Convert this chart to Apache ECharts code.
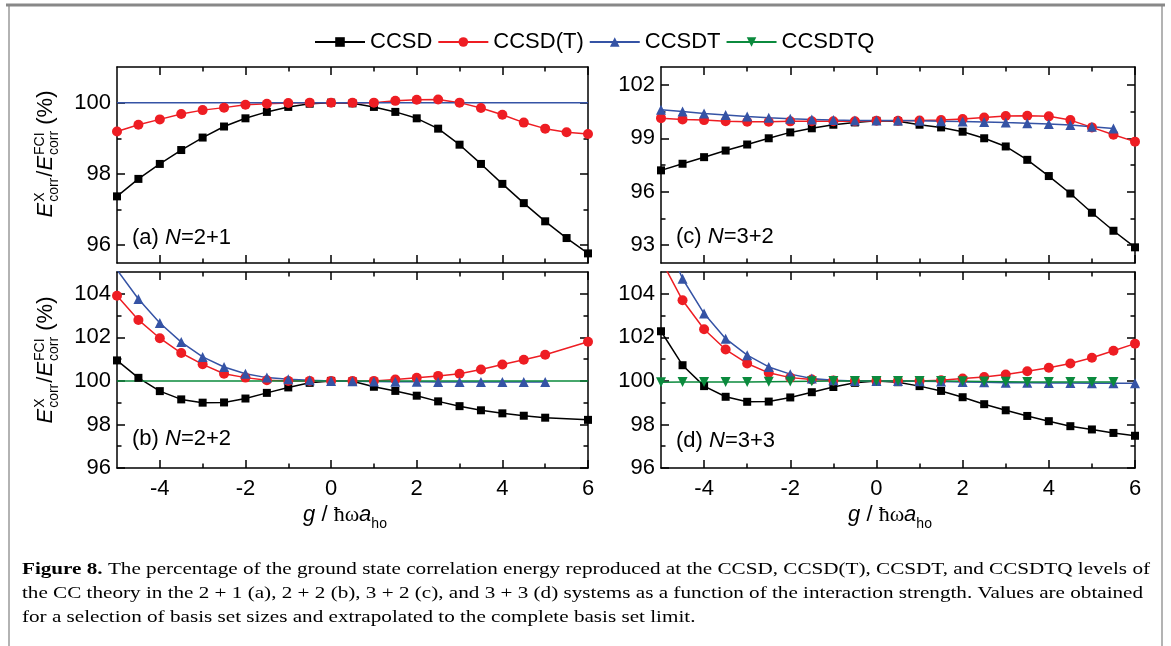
<!DOCTYPE html>
<html><head><meta charset="utf-8">
<script src="https://cdn.jsdelivr.net/npm/echarts@6/dist/echarts.min.js"></script>
<style>html,body{margin:0;padding:0;background:#fff;}#c{width:1171px;height:646px;}</style>
</head><body><div id="c"></div>
<script>
// ---------------- data ----------------
const G = [-5,-4.5,-4,-3.5,-3,-2.5,-2,-1.5,-1,-0.5,0,0.5,1,1.5,2,2.5,3,3.5,4,4.5,5,5.5,6];
const NAMES = ['CCSD','CCSD(T)','CCSDT','CCSDTQ'];
// (a) N=2+1
const A_CCSD   = [97.37,97.86,98.28,98.67,99.02,99.33,99.56,99.74,99.88,99.97,100,99.98,99.88,99.74,99.56,99.27,98.82,98.28,97.72,97.18,96.67,96.2,95.77];
const A_CCSD_T = [99.19,99.38,99.53,99.68,99.79,99.86,99.94,99.97,99.99,100,100,100,100,100.05,100.08,100.09,100.0,99.85,99.66,99.44,99.27,99.17,99.12];
const A_CCSDT  = [100,100,100,100,100,100,100,100,100,100,100,100,100,100,100,100,100,100,100,100,100,100,100];
// (b) N=2+2
const B_CCSD   = [100.94,100.14,99.53,99.15,99.0,99.01,99.19,99.45,99.7,99.91,100,99.98,99.73,99.54,99.32,99.06,98.84,98.65,98.51,98.4,98.31,null,98.21];
const B_CCSD_T = [103.91,102.8,101.96,101.28,100.76,100.33,100.15,100.03,100,100,100,100,100,100.06,100.14,100.23,100.33,100.52,100.75,100.97,101.2,null,101.8];
const B_CCSDT  = [105.1,103.76,102.66,101.78,101.1,100.64,100.33,100.15,100.08,100.03,100,99.98,99.97,99.96,99.96,99.95,99.95,99.95,99.95,99.95,99.95,null,null];
const B_CCSDTQ = [100,100,100,100,100,100,100,100,100,100,100,100,100,100,100,100,100,100,100,100,100,100,100];
// (c) N=3+2
const C_CCSD   = [97.2,97.57,97.94,98.31,98.65,99.0,99.33,99.56,99.76,99.89,99.98,99.95,99.76,99.61,99.37,99.0,98.54,97.79,96.88,95.9,94.82,93.81,92.88];
const C_CCSD_T = [100.13,100.06,100.02,99.96,99.93,99.93,99.95,99.96,99.96,99.96,99.98,99.98,100,100.02,100.08,100.17,100.25,100.26,100.23,100.02,99.61,99.2,98.81];
const C_CCSDT  = [100.6,100.5,100.39,100.3,100.22,100.15,100.1,100.06,100.02,100,100,100,99.98,99.96,99.94,99.92,99.88,99.85,99.8,99.74,99.65,99.55,null];
// (d) N=3+3
const D_CCSD   = [102.28,100.72,99.76,99.27,99.04,99.05,99.24,99.48,99.72,99.91,100,99.94,99.76,99.54,99.25,98.93,98.65,98.39,98.15,97.92,97.77,97.61,97.48];
const D_CCSD_T = [105.56,103.7,102.37,101.44,100.8,100.37,100.15,100.06,100.02,100,100,100,100,100.03,100.11,100.18,100.29,100.44,100.6,100.8,101.06,101.38,101.71];
const D_CCSDT  = [107,104.69,103.09,101.94,101.18,100.64,100.31,100.11,100.03,100,100,100,99.98,99.97,99.95,99.94,99.92,99.91,99.9,99.9,99.89,99.89,99.89];
const D_CCSDTQ = [99.94,99.95,99.95,99.95,99.95,99.96,99.97,99.98,99.99,100,100,100,100,99.99,99.98,99.97,99.96,99.95,99.95,99.95,99.95,99.95,null];
// ticks
const X_MAJOR = [-4,-2,0,2,4,6];
const X_MINOR = [-3,-1,1,3,5];
const YA_MAJOR = [96,98,100], YA_MINOR = [97,99];
const YB_MAJOR = [96,98,100,102,104], YB_MINOR = [97,99,101,103];
const YC_MAJOR = [93,96,99,102], YC_MINOR = [94.5,97.5,100.5];
const YD_MAJOR = [96,98,100,102,104], YD_MINOR = [97,99,101,103];
const PANEL_TAGS = ['(a) ','(b) ','(c) ','(d) '];
const PANEL_N = ['=2+1','=2+2','=3+2','=3+3'];
const CAPTION = [
  'The percentage of the ground state correlation energy reproduced at the CCSD, CCSD(T), CCSDT, and CCSDTQ levels of',
  'the CC theory in the 2 + 1 (a), 2 + 2 (b), 3 + 2 (c), and 3 + 3 (d) systems as a function of the interaction strength. Values are obtained',
  'for a selection of basis set sizes and extrapolated to the complete basis set limit.'
];

// ---------------- layout / style ----------------
const SANS = '"Liberation Sans", Arial, Helvetica, sans-serif';
const SERIF = '"Liberation Serif", "Times New Roman", serif';
const FS = 22;
const COLORS = ['#000000','#ee1d23','#3553a5','#0b8a3d'];
const SYMBOLS = ['rect','circle','triangle','triangle'];
const SIZES = [8,10,10,10];
const ROT = [0,0,0,180];

const GRIDS = [
  {left:117, top:67,  width:471, height:196},
  {left:117, top:272, width:471, height:196},
  {left:661, top:67,  width:474, height:196},
  {left:661, top:272, width:474, height:196}
];
const YR = [[95.5,101],[96,105],[92,103],[96,105]];
const YMAJ = [YA_MAJOR,YB_MAJOR,YC_MAJOR,YD_MAJOR];
const YMIN = [YA_MINOR,YB_MINOR,YC_MINOR,YD_MINOR];
const BOTTOM = [false,true,false,true];

const xAxis = [], yAxis = [];
const lineSt = {color:'#000', width:1.5};
GRIDS.forEach((g, gi) => {
  const mkX = (pos, vals, len, line, label) => ({
    gridIndex: gi, type:'value', min:-5, max:6, position: pos,
    axisLine:{show:line, onZero:false, lineStyle:lineSt},
    axisTick:{show:true, inside:true, length:len, customValues:vals, lineStyle:lineSt},
    axisLabel:{show:label, customValues:X_MAJOR, margin:10, fontSize:FS, fontFamily:SANS, color:'#000'},
    splitLine:{show:false}, minorTick:{show:false}
  });
  xAxis.push(mkX('bottom', X_MAJOR, 8, true, BOTTOM[gi]));
  xAxis.push(mkX('bottom', X_MINOR, 4.5, false, false));
  xAxis.push(mkX('top', X_MAJOR, 8, true, false));
  xAxis.push(mkX('top', X_MINOR, 4.5, false, false));
  const mkY = (pos, vals, len, line, label) => ({
    gridIndex: gi, type:'value', min:YR[gi][0], max:YR[gi][1], position: pos,
    axisLine:{show:line, onZero:false, lineStyle:lineSt},
    axisTick:{show:true, inside:true, length:len, customValues:vals, lineStyle:lineSt},
    axisLabel:{show:label, customValues:YMAJ[gi], margin:6, fontSize:FS, fontFamily:SANS, color:'#000'},
    splitLine:{show:false}, minorTick:{show:false}
  });
  yAxis.push(mkY('left', YMAJ[gi], 8, true, true));
  yAxis.push(mkY('left', YMIN[gi], 4.5, false, false));
  yAxis.push(mkY('right', YMAJ[gi], 8, true, false));
  yAxis.push(mkY('right', YMIN[gi], 4.5, false, false));
});

function pairs(ys){ return G.map((g,i)=> ys[i]==null ? null : [g, ys[i]]).filter(p=>p); }
const series = [];
function addSeries(gi, k, ys, markers){
  series.push({
    type:'line', name:NAMES[k], xAxisIndex:gi*4, yAxisIndex:gi*4, data:pairs(ys),
    symbol: markers ? SYMBOLS[k] : 'none', symbolSize:SIZES[k], symbolRotate:ROT[k],
    showSymbol: markers, clip:true, animation:false,
    lineStyle:{color:COLORS[k], width:1.5}, itemStyle:{color:COLORS[k]},
    emphasis:{disabled:true}
  });
}
// (d) first so legend picks marker styles
addSeries(3,0,D_CCSD,true); addSeries(3,1,D_CCSD_T,true); addSeries(3,2,D_CCSDT,true); addSeries(3,3,D_CCSDTQ,true);
addSeries(2,0,C_CCSD,true); addSeries(2,1,C_CCSD_T,true); addSeries(2,2,C_CCSDT,true);
addSeries(1,0,B_CCSD,true); addSeries(1,1,B_CCSD_T,true); addSeries(1,2,B_CCSDT,true); addSeries(1,3,B_CCSDTQ,false);
addSeries(0,0,A_CCSD,true); addSeries(0,1,A_CCSD_T,true); addSeries(0,2,A_CCSDT,false);

// ---------------- text helpers ----------------
const mctx = document.createElement('canvas').getContext('2d');
function tw(p){ mctx.font = (p.it?'italic ':'') + (p.b?'bold ':'') + p.fs + 'px ' + p.fam; return mctx.measureText(p.t).width; }
function txt(p, x, base){
  return {type:'text', x:x, y:base - 0.35*p.fs, silent:true,
    style:{text:p.t, fontSize:p.fs, fontFamily:p.fam, fontStyle:p.it?'italic':'normal', fontWeight:p.b?'bold':'normal',
      fill:'#000', align:'left', verticalAlign:'middle'}};
}
function compose(segs){
  let x = 0; const kids = [];
  segs.forEach(s => {
    if (s.sup || s.sub) {
      const x0 = x + (s.pl||0); let w = 0;
      if (s.sup){ kids.push(txt(s.sup, x0, s.supB)); w = Math.max(w, tw(s.sup)); }
      if (s.sub){ kids.push(txt(s.sub, x0, s.subB)); w = Math.max(w, tw(s.sub)); }
      x = x0 + w + (s.pr||0);
    } else { kids.push(txt(s, x, 0)); x += tw(s); }
  });
  kids.forEach(k => { k.x -= x/2; });
  return kids;
}
const big = (t,it,fam) => ({t:t, fs:FS, fam:fam||SANS, it:!!it});
const small = (t) => ({t:t, fs:14, fam:SANS});
const yLabSegs = [big('E',true), {sup:small('X'), sub:small('corr'), supB:-9, subB:5, pl:1, pr:1},
  big('/'), big('E',true), {sup:small('FCI'), sub:small('corr'), supB:-9, subB:5, pl:1, pr:0}, big(' (%)')];
const xLabSegs = [big('g',true), big(' / '), big('\u0127\u03c9',false,SERIF), big('a',true), {sub:small('ho'), subB:6, pl:0}];

const graphic = [];
// frame
graphic.push({type:'rect', shape:{x:9, y:5, width:1153, height:660}, style:{fill:'none', stroke:'#9a9a9a', lineWidth:1.5}, silent:true});
graphic.push({type:'line', shape:{x1:6, y1:5, x2:1165, y2:5}, style:{stroke:'#888', lineWidth:3}, silent:true});
// y labels
graphic.push({type:'group', x:54, y:154, rotation:Math.PI/2, children:compose(yLabSegs)});
graphic.push({type:'group', x:54, y:360, rotation:Math.PI/2, children:compose(yLabSegs)});
// x labels
graphic.push({type:'group', x:345, y:523, children:compose(xLabSegs)});
graphic.push({type:'group', x:890, y:523, children:compose(xLabSegs)});
// panel tags
const TAG_POS = [[132,249],[132,450],[676,248],[676,452]];
TAG_POS.forEach((p, i) => {
  graphic.push({type:'text', x:p[0], y:p[1], silent:true,
    style:{text:'{n|' + PANEL_TAGS[i] + '}{i|N}{n|' + PANEL_N[i] + '}', fontSize:FS, fontFamily:SANS, fill:'#000',
      align:'left', verticalAlign:'bottom',
      rich:{n:{fontSize:FS, fontFamily:SANS, fill:'#000'}, i:{fontSize:FS, fontFamily:SANS, fontStyle:'italic', fill:'#000'}}}});
});
// caption
const CAP_FS = 17;
mctx.font = 'bold ' + CAP_FS + 'px ' + SERIF; const wBold = mctx.measureText('Figure 8.').width;
mctx.font = CAP_FS + 'px ' + SERIF; const wRest = mctx.measureText(' ' + CAPTION[0]).width;
const capScale = 1128 / (wBold + wRest);
const CAP_Y = [570, 594, 618];
CAPTION.forEach((line, i) => {
  const t = i === 0 ? '{b|Figure 8.}{n| ' + line + '}' : '{n|' + line + '}';
  graphic.push({type:'text', x:22, y:CAP_Y[i], scaleX:capScale, silent:true,
    style:{text:t, fontSize:CAP_FS, fontFamily:SERIF, fill:'#000', align:'left', verticalAlign:'middle',
      rich:{b:{fontSize:CAP_FS, fontFamily:SERIF, fontWeight:'bold', fill:'#000'}, n:{fontSize:CAP_FS, fontFamily:SERIF, fill:'#000'}}}});
});

const chart = echarts.init(document.getElementById('c'), null, {renderer:'canvas'});
chart.setOption({
  backgroundColor:'#ffffff',
  animation:false,
  legend:{data:NAMES, left:314, top:31, padding:0, itemWidth:50, itemHeight:12, itemGap:5,
    textStyle:{fontSize:FS, fontFamily:SANS, color:'#000'}},
  grid: GRIDS.map(g => Object.assign({outerBoundsMode:'none', containLabel:false}, g)),
  xAxis: xAxis, yAxis: yAxis, series: series, graphic: graphic
});
</script></body></html>
